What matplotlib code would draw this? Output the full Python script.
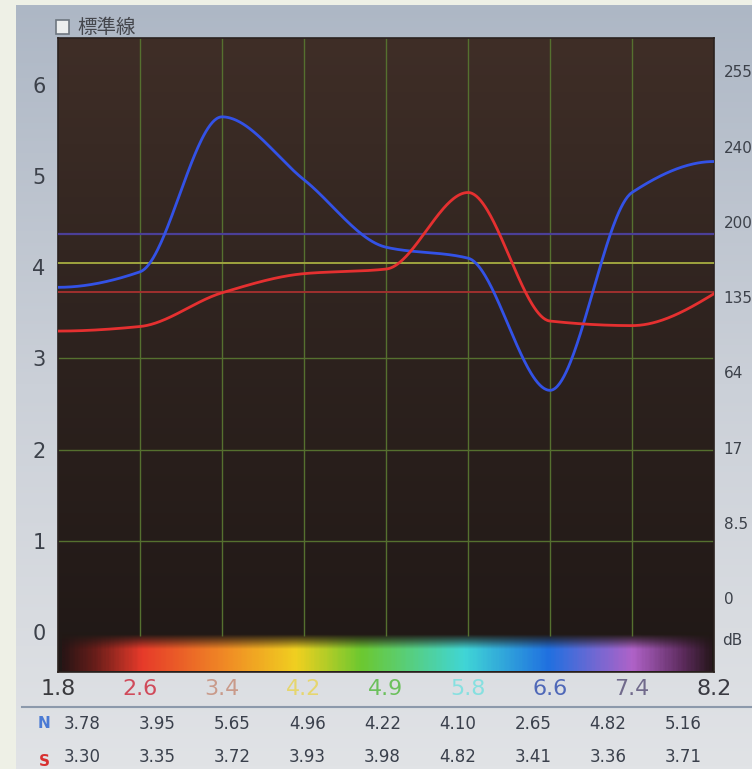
import numpy as np
import matplotlib.pyplot as plt
from matplotlib.colors import LinearSegmentedColormap
from matplotlib.patches import Rectangle
from matplotlib.lines import Line2D

plt.rcParams['font.family'] = ['Noto Sans CJK JP', 'DejaVu Sans']

# data
freq_labels = ['1.8', '2.6', '3.4', '4.2', '4.9', '5.8', '6.6', '7.4', '8.2']
freq_colors = ['#3a3a3e', '#d04a5a', '#c99a8a', '#e6d66e', '#6cc05c',
               '#86e0e0', '#4f68b8', '#716a8c', '#3a3a42']
n_vals = [3.78, 3.95, 5.65, 4.96, 4.22, 4.10, 2.65, 4.82, 5.16]
s_vals = [3.30, 3.35, 3.72, 3.93, 3.98, 4.82, 3.41, 3.36, 3.71]
left_ticks = [0, 1, 2, 3, 4, 5, 6]
right_labels = ['0', '8.5', '17', '64', '135', '200', '240', '255']


def pchip(y, num=600):
    # monotone cubic curve through the points (like the screen draws)
    y = np.asarray(y, float)
    d = np.diff(y)
    m = np.zeros_like(y)
    for k in range(1, len(y) - 1):
        if d[k - 1] * d[k] > 0:
            m[k] = 2 * d[k - 1] * d[k] / (d[k - 1] + d[k])
    for i, (a, b) in enumerate([(d[0], d[1]), (d[-1], d[-2])]):
        e = (3 * a - b) / 2
        if np.sign(e) != np.sign(a):
            e = 0
        elif np.sign(a) != np.sign(b) and abs(e) > abs(3 * a):
            e = 3 * a
        m[0 if i == 0 else -1] = e
    xs = np.linspace(0, len(y) - 1, num)
    k = np.clip(np.floor(xs).astype(int), 0, len(y) - 2)
    t = xs - k
    h00 = 2 * t**3 - 3 * t**2 + 1
    h10 = t**3 - 2 * t**2 + t
    h01 = -2 * t**3 + 3 * t**2
    h11 = t**3 - t**2
    return xs, h00 * y[k] + h10 * m[k] + h01 * y[k + 1] + h11 * m[k + 1]


W, H = 752, 769
fig = plt.figure(figsize=(W / 100, H / 100), dpi=100)

# panel background
bg = fig.add_axes([0, 0, 1, 1], zorder=-10)
bg.set_axis_off()
panel = LinearSegmentedColormap.from_list('panel', ['#adb7c5', '#cbd0d8', '#e1e3e6'])
bg.imshow(np.linspace(0, 1, 256)[:, None], cmap=panel, extent=[0, 1, 0, 1],
          aspect='auto', origin='upper')
bg.add_patch(Rectangle((0, 0), 16 / W, 1, color='#eef0e6', lw=0))
bg.add_patch(Rectangle((0, 1 - 5 / H), 1, 5 / H, color='#eef0e6', lw=0))
bg.set_xlim(0, 1)
bg.set_ylim(0, 1)

# main plot
ax = fig.add_axes([58 / W, 1 - 672 / H, 656 / W, 634 / H])
ymin, ymax = -0.44, 6.515
ax.set_xlim(0, 8)
ax.set_ylim(ymin, ymax)

darkmap = LinearSegmentedColormap.from_list('dark', ['#3f2e27', '#2d221e', '#201816'])
ax.imshow(np.linspace(0, 1, 256)[:, None], cmap=darkmap, extent=[0, 8, ymin, ymax],
          aspect='auto', origin='upper', zorder=0)

# spectrum strip
spec = LinearSegmentedColormap.from_list('spec', [
    (0.0, '#2a1515'), (0.05, '#6a1e1a'), (0.12, '#e63a2a'), (0.25, '#f08a25'),
    (0.36, '#f0d020'), (0.46, '#6cc830'), (0.62, '#40d6d6'), (0.75, '#2070e0'),
    (0.88, '#b062c8'), (0.96, '#5a2a5a'), (1.0, '#2a1820')])
sx = spec(np.linspace(0, 1, 400))
alpha = np.clip(np.linspace(0, 1, 60) / 0.4, 0, 1)
strip = np.repeat(sx[None, :, :], 60, axis=0)
strip[:, :, 3] = alpha[:, None]
ax.imshow(strip, extent=[0.05, 7.97, ymin + 0.01, -0.03], aspect='auto', origin='upper', zorder=1)

# grid
ax.hlines([1, 2, 3], 0, 8, color='#55702f', lw=1.0, zorder=2)
ax.vlines(range(1, 8), -0.05, ymax, color='#55702f', lw=1.0, zorder=2)

# mean lines
ax.axhline(np.mean(n_vals), color='#4b3f98', lw=1.6, zorder=3)
ax.axhline((np.mean(n_vals) + np.mean(s_vals)) / 2, color='#9ea43e', lw=1.4, zorder=3)
ax.axhline(np.mean(s_vals), color='#a0302e', lw=1.4, zorder=3)

xs, ns = pchip(n_vals)
ax.plot(xs, ns, color='#3352e6', lw=2.0, zorder=5)
xs, ss = pchip(s_vals)
ax.plot(xs, ss, color='#e53030', lw=2.0, zorder=5)

for sp in ax.spines.values():
    sp.set_color('#2a211e')
    sp.set_linewidth(1.2)

ax.set_yticks(left_ticks)
ax.set_yticklabels([str(v) for v in left_ticks], fontsize=15, color='#3c414a', family='DejaVu Sans')
ax.tick_params(axis='y', length=0, pad=9)
ax.set_xticks(range(len(freq_labels)))
ax.set_xticklabels(freq_labels, fontsize=16, family='DejaVu Sans')
ax.tick_params(axis='x', length=0, pad=5)
for lab, c in zip(ax.get_xticklabels(), freq_colors):
    lab.set_color(c)

ax2 = ax.twinx()
ax2.set_ylim(ymin, ymax)
ax2.set_yticks(np.linspace(0.37, 6.15, len(right_labels)))
ax2.set_yticklabels(right_labels, fontsize=11, color='#3c414a', family='DejaVu Sans')
ax2.tick_params(axis='y', length=0, pad=7)
for sp in ax2.spines.values():
    sp.set_visible(False)
ax.text(1.012, -0.09, 'dB', transform=ax.get_yaxis_transform(), fontsize=11,
        color='#3c414a', va='center', ha='left', family='DejaVu Sans')

# checkbox + label
fig.add_artist(Rectangle((56 / W, 1 - 34 / H), 13 / W, 14 / H, transform=fig.transFigure,
                         facecolor='#eceeee', edgecolor='#6e7680', lw=1.2))
fig.text(77 / W, 1 - 27 / H, '標準線', fontsize=14, color='#45474d', va='center', ha='left')

# separator
fig.add_artist(Line2D([22 / W, 1], [1 - 707 / H] * 2, color='#8c99ab', lw=1.5))

# table of values
cols = np.linspace(82, 683, len(n_vals)) / W
fig.text(44 / W, 1 - 724 / H, 'N', fontsize=11, color='#4a7ad4', weight='bold', ha='center', va='center', family='DejaVu Sans')
fig.text(44 / W, 1 - 761 / H, 'S', fontsize=11, color='#d83030', weight='bold', ha='center', va='center', family='DejaVu Sans')
for x, nv, sv in zip(cols, n_vals, s_vals):
    fig.text(x, 1 - 724 / H, f'{nv:.2f}', fontsize=12, color='#3a404c', ha='center', va='center', family='DejaVu Sans')
    fig.text(x, 1 - 757 / H, f'{sv:.2f}', fontsize=12, color='#3a404c', ha='center', va='center', family='DejaVu Sans')

fig.savefig('out.png', dpi=100)
